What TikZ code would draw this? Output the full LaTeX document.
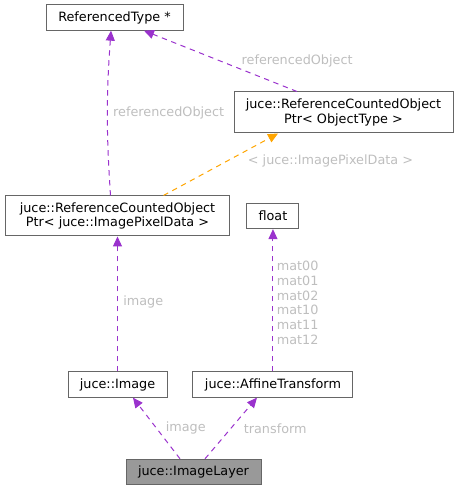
\documentclass[tikz,border=0pt]{standalone}
\usepackage{fontspec}
\setmainfont{DejaVu Sans}
\usetikzlibrary{arrows.meta, positioning}

\definecolor{boxGray}{HTML}{666666}
\definecolor{mainGray}{HTML}{999999}
\definecolor{labelGray}{HTML}{BEBEBE}
\definecolor{usePurple}{HTML}{9A32CD}
\definecolor{tmplOrange}{HTML}{FFA500}

\begin{document}
\begin{tikzpicture}[x=0.75pt, y=-0.75pt, node distance=126.4pt, on grid, line width=0.75pt, font={\fontsize{9.6}{11.1}\selectfont}]
	\tikzstyle{cls} = [draw=boxGray, fill=white, rectangle, minimum height=19pt, inner sep=1pt, align=center];
	\tikzstyle{mainCls} = [cls, fill=mainGray];
	\tikzstyle{useEdge} = [usePurple, dash pattern=on 4pt off 3.5pt, -{Triangle[length=7.5pt, width=6.75pt]}];
	\tikzstyle{tmplEdge} = [useEdge, tmplOrange];
	\tikzstyle{edgeLabel} = [text=labelGray, anchor=west, inner sep=1pt, align=left];

	\useasboundingbox (0,0) rectangle (459,491);

	\node[mainCls, minimum width=101.25pt](layer) at (193.5,472) {juce::ImageLayer};
	\node[cls, minimum width=74.25pt](image) at (117.5,384.5) {juce::Image};
	\node[cls, minimum width=120pt](affine) [right=116.6pt of image] {juce::AffineTransform};
	\node[cls, minimum width=168pt, minimum height=30pt](ptrIPD) [above=of image] {juce::ReferenceCountedObject\\Ptr< juce::ImagePixelData >};
	\node[cls, minimum width=39pt](float) [above=of affine] {float};
	\node[cls, minimum width=164.25pt, minimum height=30.75pt](ptrOT) at (343.5,112.5) {juce::ReferenceCountedObject\\Ptr< ObjectType >};
	\node[cls, minimum width=102.75pt](refType) at (114.5,17.5) {ReferencedType *};

	\path
	([xshift=-10.1pt]layer.north) edge[useEdge] node[edgeLabel, xshift=5.6pt] {image} ([xshift=11.6pt]image.south)
	([xshift=8.6pt]layer.north) edge[useEdge] node[edgeLabel, xshift=8.3pt] {transform} ([xshift=-12pt]affine.south)
	(image) edge[useEdge] node[edgeLabel, xshift=3pt, yshift=1.5pt] {image} (ptrIPD)
	(affine) edge[useEdge] node[edgeLabel, xshift=1.5pt, yshift=-1.9pt] {mat00\\mat01\\mat02\\mat10\\mat11\\mat12} (float)
	([xshift=-5.25pt]ptrIPD.north) edge[useEdge, bend left=4] node[edgeLabel, xshift=3pt] {referencedObject} ([xshift=-2.6pt]refType.south)
	([xshift=-34.9pt]ptrOT.north) edge[useEdge] node[edgeLabel, xshift=14.5pt] {referencedObject} ([xshift=22.1pt]refType.south)
	([xshift=34.5pt]ptrIPD.north) edge[tmplEdge] node[edgeLabel, xshift=19pt, yshift=2.6pt] {< juce::ImagePixelData >} ([xshift=-49.1pt]ptrOT.south);
\end{tikzpicture}
\end{document}
